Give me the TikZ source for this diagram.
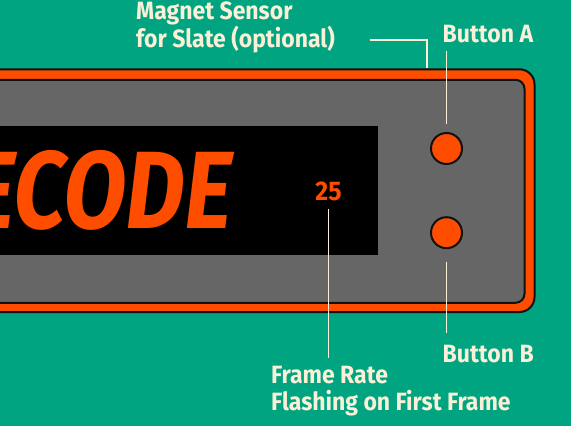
\documentclass[tikz,border=0pt]{standalone}
\usepackage{fontspec}
\usetikzlibrary{positioning,calc}
\newfontfamily\labfont[FakeStretch=0.92]{Fira Sans}
\newfontfamily\lcdfont[FakeStretch=0.82,FakeSlant=0.12]{Fira Sans}
\definecolor{bgc}{HTML}{00A480}
\definecolor{creamc}{HTML}{FAF0D8}
\definecolor{orangec}{HTML}{FF4D00}
\definecolor{panelc}{HTML}{666666}
\definecolor{inkc}{HTML}{111111}
\tikzset{
  devframe/.style={draw=inkc,line width=2pt,fill=orangec,rounded corners=15pt},
  panel/.style   ={draw=inkc,line width=2pt,fill=panelc,rounded corners=9pt},
  btn/.style     ={circle,draw=inkc,line width=2pt,fill=orangec,minimum size=31pt,inner sep=0pt},
  lab/.style     ={font=\labfont\bfseries\fontsize{25}{26.3}\selectfont,text=creamc,
                   align=left,inner sep=0pt},
  lcd/.style     ={font=\lcdfont\bfseries\fontsize{110}{110}\selectfont,text=orangec,inner sep=0pt},
  fps/.style     ={font=\labfont\bfseries\fontsize{27}{27}\selectfont,text=orangec,inner sep=0pt},
  lead/.style    ={draw=creamc,line width=1.8pt},
}
\begin{document}
\begin{tikzpicture}[x=1pt,y=-1pt]
\useasboundingbox (0,0) rectangle (571,426);
\clip (0,0) rectangle (571,426);
\fill[bgc] (0,0) rectangle (571,426);

% ============================ device =====================================
\draw[devframe] (-30,69.3) rectangle (534.5,312);
\draw[panel]    (-30,79.8) rectangle (524.5,302.8);
\fill[black]    (-30,126)  rectangle (378,255);

\node[lcd,anchor=base east] (tc)  at (229,228) {ECODE};
\node[fps]                  (fps) at (328.5,191) {25};

\node[btn] (btnA) at (446.5,148.5) {};
\node[btn] (btnB) at (446.5,232.7) {};

% ============================ labels =====================================
% multi-line nodes sit on the baseline of their last line
\node[lab,anchor=base west] (mag)  at (136,47.5)  {Magnet Sensor\\for Slate (optional)};
\node[lab,anchor=base west] (labA) at (442.5,42.7) {Button A};
\node[lab,anchor=base west] (labB) at (442.5,362)  {Button B};
\node[lab,anchor=base west] (rate) at (271,410)    {Frame Rate\\Flashing on First Frame};

\coordinate (magL)  at (370,40);
\coordinate (magT)  at (426.7,68.3);
\coordinate (labAB) at (446.5,51);
\coordinate (rateT) at (328.5,358);
\coordinate (labBT) at (446.5,333);

\draw[lead] (magL) -| (magT);
\draw[lead] (labAB) -- ([yshift=8.5pt]btnA.north);
\draw[lead] ([yshift=-12.5pt]btnB.south) -- (labBT);
\draw[lead] ([yshift=-8pt]fps.south) -- (rateT);
\end{tikzpicture}
\end{document}
